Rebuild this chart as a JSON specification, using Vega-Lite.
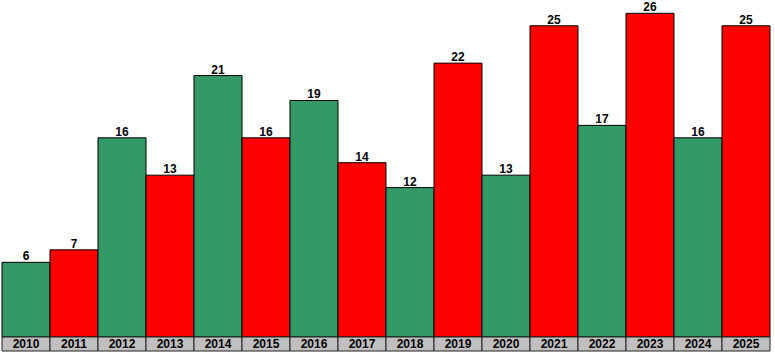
{
  "$schema": "https://vega.github.io/schema/vega-lite/v6.json",
  "autosize": {"type": "none"},
  "width": 768,
  "height": 351,
  "padding": {"left": 2, "right": 5, "top": 0, "bottom": 4},
  "background": "white",
  "config": {"view": {"stroke": null}},
  "data": {"values": [
    {"year": "2010", "value": 6, "trend": "up"},
    {"year": "2011", "value": 7, "trend": "down"},
    {"year": "2012", "value": 16, "trend": "up"},
    {"year": "2013", "value": 13, "trend": "down"},
    {"year": "2014", "value": 21, "trend": "up"},
    {"year": "2015", "value": 16, "trend": "down"},
    {"year": "2016", "value": 19, "trend": "up"},
    {"year": "2017", "value": 14, "trend": "down"},
    {"year": "2018", "value": 12, "trend": "up"},
    {"year": "2019", "value": 22, "trend": "down"},
    {"year": "2020", "value": 13, "trend": "up"},
    {"year": "2021", "value": 25, "trend": "down"},
    {"year": "2022", "value": 17, "trend": "up"},
    {"year": "2023", "value": 26, "trend": "down"},
    {"year": "2024", "value": 16, "trend": "up"},
    {"year": "2025", "value": 25, "trend": "down"}
  ]},
  "encoding": {
    "x": {"field": "year", "type": "ordinal", "axis": null,
          "scale": {"paddingInner": 0, "paddingOuter": 0}}
  },
  "layer": [
    {
      "mark": {"type": "bar", "stroke": "black", "strokeWidth": 1},
      "encoding": {
        "y": {"field": "value", "type": "quantitative", "axis": null,
              "scale": {"domain": [-1.124, 27.07], "nice": false, "zero": false}},
        "y2": {"datum": 0},
        "color": {"field": "trend", "type": "nominal", "legend": null,
                  "scale": {"domain": ["up", "down"], "range": ["#339966", "#ff0000"]}}
      }
    },
    {
      "mark": {"type": "text", "baseline": "alphabetic", "dy": -2, "font": "Liberation Sans", "fontWeight": "bold", "fontSize": 12, "color": "black"},
      "encoding": {
        "y": {"field": "value", "type": "quantitative"},
        "text": {"field": "value", "type": "quantitative"}
      }
    },
    {
      "mark": {"type": "bar", "fill": "#c0c0c0", "stroke": "#222222", "strokeWidth": 1},
      "encoding": {
        "y": {"datum": 0},
        "y2": {"datum": -1.124}
      }
    },
    {
      "mark": {"type": "text", "baseline": "alphabetic", "dy": 4, "font": "Liberation Sans", "fontWeight": "bold", "fontSize": 12, "color": "black"},
      "encoding": {
        "y": {"datum": -0.562},
        "text": {"field": "year", "type": "nominal"}
      }
    }
  ]
}
